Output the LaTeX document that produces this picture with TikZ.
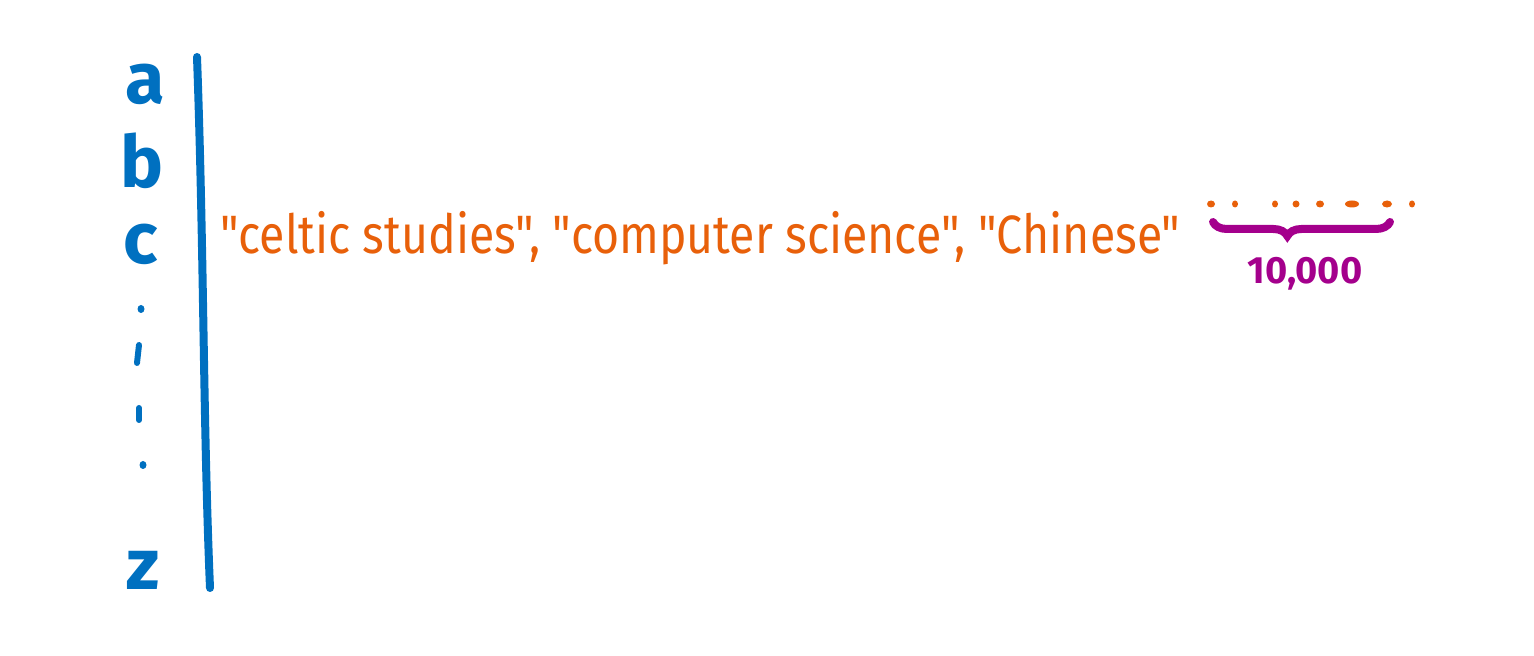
\documentclass[tikz,border=0pt]{standalone}
\usepackage{fontspec}
\setmainfont{Fira Sans}
\newfontfamily\hand[FakeStretch=0.86]{Fira Sans}
\usetikzlibrary{decorations.pathreplacing}
\definecolor{inkblue}{HTML}{0070C0}
\definecolor{inkorange}{HTML}{E8600A}
\definecolor{inkpurple}{HTML}{A4008C}
\tikzset{
  letter/.style={text=inkblue, inner sep=0pt, anchor=base, font=\fontsize{36}{36}\selectfont\bfseries},
  words/.style={text=inkorange, inner sep=0pt, anchor=base west, font=\hand\fontsize{27}{27}\selectfont},
  count/.style={text=inkpurple, inner sep=0pt, font=\fontsize{19}{19}\selectfont\bfseries},
}
\begin{document}
\begin{tikzpicture}[x=0.5pt,y=-0.5pt]
\useasboundingbox (0,0) rectangle (1534,656);
% letters
\node[letter] (la) at (145,104) {a};
\node[letter] (lb) at (142,188) {b};
\node[letter] (lc) at (141,264) {c};
\node[letter] (lz) at (143,589) {z};
% vertical ellipsis marks
\fill[inkblue] (141,309) ellipse (3.5 and 4);
\draw[inkblue, line width=3pt, line cap=round] (139,345) -- (137,363);
\draw[inkblue, line width=3pt, line cap=round] (139,408) -- (139,420);
\fill[inkblue] (143,465) ellipse (3.5 and 4);
% the axis line
\coordinate (top) at (197,57);
\coordinate (bot) at (210,588);
\draw[inkblue, line width=4pt, line cap=round] (top) .. controls (204,250) and (203,420) .. (bot);
% orange words
\node[words] (w) at (220,254) {"celtic studies", "computer science", "Chinese"};
% orange dots
\foreach \x/\w in {1211/8,1235/6,1275/6,1296/7,1320/8,1352/14,1387/10,1412/6}
  \fill[inkorange] (\x,204) ellipse (\w*0.5 and 3.5);
% brace
\coordinate (bl) at (1213,222);
\coordinate (br) at (1390,222);
\draw[inkpurple, line width=4pt, line cap=round, decorate,
  decoration={brace, mirror, amplitude=7pt, aspect=0.42}] (bl) -- (br);
\node[count] (n) at (1305,274) {10,000};
\end{tikzpicture}
\end{document}
